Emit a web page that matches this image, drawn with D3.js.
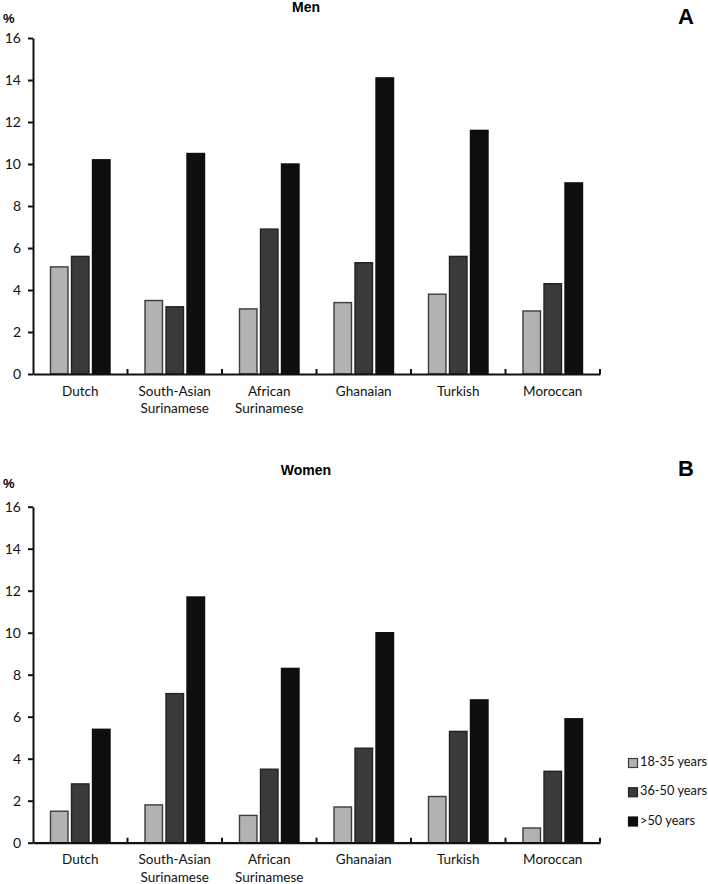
<!DOCTYPE html>
<html>
<head>
<meta charset="utf-8">
<script src="https://cdn.jsdelivr.net/npm/d3@7"></script>
<style>
  html, body { margin: 0; padding: 0; background: #fff; }
  svg { display: block; }
</style>
</head>
<body>
<div id="chart"></div>
<script>
// ---- data ----
const categories = ["Dutch", "South-Asian Surinamese", "African Surinamese", "Ghanaian", "Turkish", "Moroccan"];
const categoryLines = [["Dutch"], ["South-Asian", "Surinamese"], ["African", "Surinamese"], ["Ghanaian"], ["Turkish"], ["Moroccan"]];
const series = ["18-35 years", "36-50 years", ">50 years"];
// Men (panel A)
const men_18_35 = [5.1, 3.5, 3.1, 3.4, 3.8, 3.0];
const men_36_50 = [5.6, 3.2, 6.9, 5.3, 5.6, 4.3];
const men_50plus = [10.2, 10.5, 10.0, 14.1, 11.6, 9.1];
// Women (panel B)
const women_18_35 = [1.5, 1.8, 1.3, 1.7, 2.2, 0.7];
const women_36_50 = [2.8, 7.1, 3.5, 4.5, 5.3, 3.4];
const women_50plus = [5.4, 11.7, 8.3, 10.0, 6.8, 5.9];
const yTicks = [0, 2, 4, 6, 8, 10, 12, 14, 16];

const W = 708, H = 884;
const fills = ["#b2b2b2", "#3a3a3a", "#0e0e0e"];
const strokes = ["#3c3c3c", "#222222", "#0e0e0e"];
const labelFont = "Lato, 'Open Sans', sans-serif";
const boldFont = "'Liberation Sans', Arial, sans-serif";

const svg = d3.select("#chart").append("svg")
  .attr("width", W).attr("height", H)
  .attr("viewBox", `0 0 ${W} ${H}`);

function drawPanel(vals, top, bottom, title, letter, titleY, pctY, letterY, legend) {
  const g = svg.append("g");
  const x = d3.scaleBand().domain(categories).range([33, 600]).paddingInner(0).paddingOuter(0);
  const xs = d3.scaleBand().domain(series).range([0, x.bandwidth()]).paddingInner(0.167).paddingOuter(0.833);
  const y = d3.scaleLinear().domain([0, 16]).range([bottom, top]);

  // bars
  series.forEach((s, si) => {
    g.append("g").selectAll("rect").data(categories).join("rect")
      .attr("x", c => x(c) + xs(s))
      .attr("y", (c, i) => y(vals[si][i]))
      .attr("width", xs.bandwidth())
      .attr("height", (c, i) => y(0) - y(vals[si][i]))
      .attr("fill", fills[si])
      .attr("stroke", strokes[si])
      .attr("stroke-width", 1.4);
  });

  // y axis
  const yAxis = g.append("g").attr("transform", `translate(33,0)`)
    .call(d3.axisLeft(y).tickValues(yTicks).tickSize(5).tickPadding(7).tickSizeOuter(0));
  yAxis.select(".domain").attr("stroke", "#111").attr("stroke-width", 2);
  yAxis.selectAll(".tick line").attr("stroke", "#111").attr("stroke-width", 2);
  yAxis.selectAll(".tick text").attr("font-family", labelFont).attr("font-size", 14).attr("fill", "#111");

  // x axis (ticks between categories, pointing up)
  const xAxis = g.append("g").attr("transform", `translate(0,${bottom})`)
    .call(d3.axisBottom(x).tickSize(0).tickFormat(""));
  xAxis.select(".domain").attr("stroke", "#111").attr("stroke-width", 2.2);
  xAxis.selectAll(".tick").remove();
  g.append("g").selectAll("line").data(categories).join("line")
    .attr("x1", c => x(c) + x.bandwidth()).attr("x2", c => x(c) + x.bandwidth())
    .attr("y1", bottom).attr("y2", bottom - 5)
    .attr("stroke", "#111").attr("stroke-width", 2);

  // category labels
  const lab = g.append("g").selectAll("text").data(categories).join("text")
    .attr("x", c => x(c) + x.bandwidth() / 2)
    .attr("y", bottom + 18.5)
    .attr("text-anchor", "middle")
    .attr("dominant-baseline", "middle")
    .attr("font-family", labelFont).attr("font-size", 13.5).attr("fill", "#111");
  lab.each(function(c, i) {
    d3.select(this).selectAll("tspan").data(categoryLines[i]).join("tspan")
      .attr("x", x(c) + x.bandwidth() / 2)
      .attr("dy", (d, j) => j === 0 ? 0 : 17.5)
      .text(d => d);
  });

  // title, %, letter
  g.append("text").attr("x", 306).attr("y", titleY)
    .attr("text-anchor", "middle").attr("dominant-baseline", "middle")
    .attr("font-family", boldFont).attr("font-weight", "bold").attr("font-size", 14).attr("fill", "#000")
    .text(title);
  g.append("text").attr("x", 3).attr("y", pctY)
    .attr("dominant-baseline", "middle")
    .attr("font-family", boldFont).attr("font-weight", "bold").attr("font-size", 13).attr("fill", "#000")
    .text("%");
  g.append("text").attr("x", 686).attr("y", letterY)
    .attr("text-anchor", "middle").attr("dominant-baseline", "middle")
    .attr("font-family", boldFont).attr("font-weight", "bold").attr("font-size", 22).attr("fill", "#000")
    .text(letter);

  if (legend) {
    const ly = d3.scalePoint().domain(series).range([763, 821.5]);
    const lg = g.append("g");
    lg.selectAll("rect").data(series).join("rect")
      .attr("x", 628.5).attr("y", s => ly(s) - 4.5)
      .attr("width", 9).attr("height", 9)
      .attr("fill", (s, i) => fills[i]).attr("stroke", (s, i) => strokes[i]).attr("stroke-width", 1.2);
    lg.selectAll("text").data(series).join("text")
      .attr("x", 640).attr("y", s => ly(s))
      .attr("dominant-baseline", "middle")
      .attr("font-family", labelFont).attr("font-size", 12.8).attr("fill", "#111")
      .text(s => s);
  }
}

drawPanel([men_18_35, men_36_50, men_50plus], 38, 374, "Men", "A", 8, 20, 18, false);
drawPanel([women_18_35, women_36_50, women_50plus], 506.7, 842.7, "Women", "B", 471, 485, 470, true);
</script>
</body>
</html>
